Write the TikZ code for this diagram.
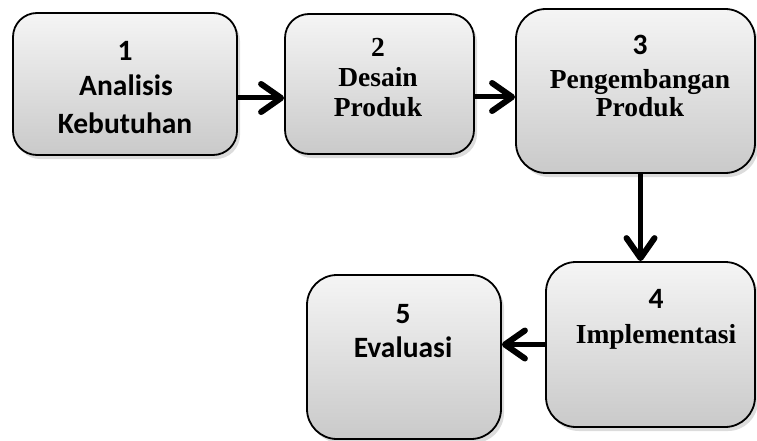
\documentclass[tikz,border=0pt]{standalone}
\usepackage{fontspec}
\setmainfont{Liberation Serif}
\newfontfamily\calib{Carlito}
\usetikzlibrary{arrows.meta,shadows,calc}
\begin{document}
\begin{tikzpicture}[x=1pt,y=-1pt,
  stepbox/.style={draw=black, line width=1.8pt, rounded corners=24pt,
    top color=gray!8, bottom color=gray!42,
    drop shadow={opacity=0.28, shadow xshift=3pt, shadow yshift=-4pt},
    inner sep=0pt},
  sanst/.style={anchor=base, inner sep=0pt, font=\calib\bfseries\fontsize{29.5}{35}\selectfont},
  serift/.style={anchor=base, inner sep=0pt, font=\bfseries\fontsize{27.5}{33}\selectfont},
  arr/.style={line width=5pt, -{Straight Barb[length=20pt,width=28pt,line width=6pt,round]}}]
\useasboundingbox (0,0) rectangle (757,441);

\node[stepbox, minimum width=224pt, minimum height=142pt] (b1) at (125,84) {};
\node[stepbox, minimum width=189pt, minimum height=140pt] (b2) at (379.5,84) {};
\node[stepbox, rounded corners=30pt, minimum width=239pt, minimum height=164pt] (b3) at (635.5,91) {};
\node[stepbox, rounded corners=30pt, minimum width=209pt, minimum height=165pt] (b4) at (650.5,344.5) {};
\node[stepbox, rounded corners=30pt, minimum width=194pt, minimum height=164pt] (b5) at (404,357) {};

\node[sanst] (t1a) at (125,61) {1};
\node[sanst] (t1b) at (126,96) {Analisis};
\node[sanst] (t1c) at (125,133) {Kebutuhan};

\node[serift] (t2a) at (378,57) {2};
\node[serift] (t2b) at (378,87) {Desain};
\node[serift] (t2c) at (378,117) {Produk};

\node[sanst] (t3a) at (640,55) {3};
\node[serift] (t3b) at (640,89) {Pengembangan};
\node[serift] (t3c) at (640,117) {Produk};

\node[sanst] (t4a) at (656,308) {4};
\node[serift] (t4b) at (656,343) {Implementasi};

\node[sanst] (t5a) at (403,323) {5};
\node[sanst] (t5b) at (403,357) {Evaluasi};

\draw[arr] ([yshift=-14pt]b1.east) -- ([yshift=-14pt]b1.east -| b2.west);
\draw[arr] ([yshift=-13pt]b2.east) -- ([yshift=-13pt]b2.east -| b3.west);
\draw[arr] ([xshift=5pt]b3.south) -- ([xshift=5pt]b3.south |- b4.north);
\draw[arr] (b4.west) -- (b4.west -| b5.east);
\end{tikzpicture}
\end{document}
